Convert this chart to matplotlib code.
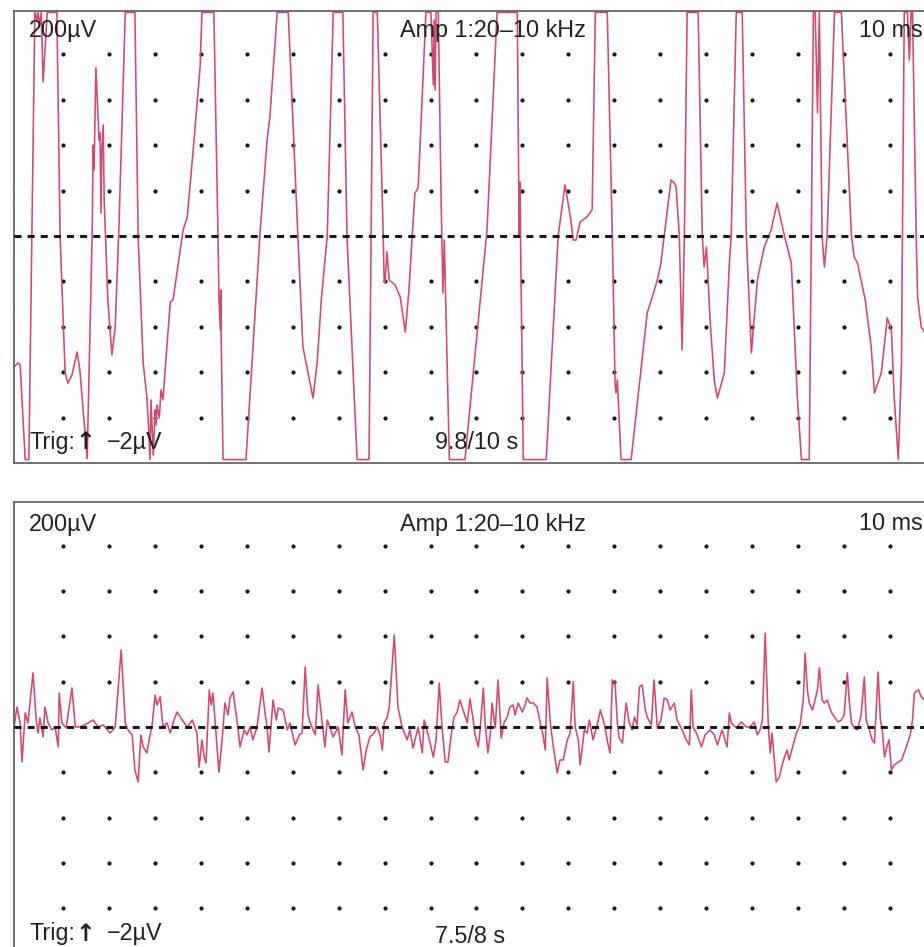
import matplotlib
matplotlib.use("Agg")
import matplotlib.pyplot as plt
import numpy as np

plt.rcParams['font.family'] = ['Liberation Sans', 'DejaVu Sans']

W, H = 924, 947

# Screen graticule: 10 ms and 200 uV per division
grid_t = np.arange(10, 200, 10)                 # ms
grid_uV = [-800, -600, -400, -200, 200, 400, 600, 800]

gain_label = "200\u00b5V"
filter_label = "Amp 1:20\u201310 kHz"
sweep_label = "10 ms"
trig_label = "Trig:"
trig_arrow = "\u2191"
level_label = "\u22122\u00b5V"
top_time_label = "9.8/10 s"
bot_time_label = "7.5/8 s"

# Upper trace (ms, uV), amplifier saturates at about +/-985 uV
top_t = [-0.7, 0.1, 0.6, 1.7, 2.5, 3.8, 4.3, 4.5, 4.9, 5.2,
         5.6, 6.5, 8.6, 9.3, 10.4, 11.0, 11.9, 13.0, 13.6, 15.2,
         16.3, 16.5, 16.7, 17.1, 17.6, 17.8, 18.0, 18.2, 18.4, 18.7,
         18.9, 19.7, 20.6, 21.3, 22.1, 23.5, 25.6, 26.3, 27.4, 28.2,
         28.5, 28.9, 29.1, 29.6, 30.0, 30.2, 30.4, 30.9, 31.3, 31.7,
         33.3, 33.9, 36.1, 37.0, 38.3, 39.8, 40.2, 42.8, 43.7, 43.9,
         44.2, 44.3, 44.4, 44.8, 49.8, 52.9, 54.4, 55.0, 56.6, 59.0,
         61.1, 62.2, 64.4, 65.3, 66.2, 67.5, 68.8, 70.9, 71.8, 74.0,
         76.6, 77.5, 78.4, 79.7, 79.9, 80.1, 80.5, 81.0, 82.3, 83.4,
         84.5, 85.3, 86.0, 86.6, 87.3, 89.0, 90.1, 90.6, 90.8, 91.0,
         91.2, 91.7, 92.3, 92.7, 93.0, 94.1, 97.5, 102.3, 104.5, 108.9,
         109.3, 109.5, 109.6, 110.2, 115.2, 117.8, 119.3, 120.4, 121.1, 121.7,
         122.6, 124.1, 125.2, 125.9, 128.5, 129.6, 130.2, 130.4, 130.7, 131.5,
         133.7, 137.2, 138.1, 139.4, 140.2, 140.9, 142.4, 143.1, 143.5, 144.2,
         144.8, 145.3, 145.9, 148.3, 149.2, 149.6, 150.1, 150.9, 151.8, 152.5,
         154.0, 155.1, 155.5, 156.6, 157.9, 158.8, 159.9, 161.2, 162.7, 164.2,
         165.5, 167.1, 168.6, 169.9, 170.8, 172.5, 173.4, 173.8, 174.3, 174.7,
         175.3, 175.8, 176.2, 176.4, 178.0, 179.5, 181.7, 182.3, 183.0, 184.7,
         186.0, 186.7, 188.2, 189.5, 190.4, 191.0, 191.9, 192.6, 192.8, 193.2,
         193.9, 194.3, 194.7, 195.0, 195.8, 196.1, 196.5, 196.9, 198.0]
top_uV = [-577, -559, -568, -985, -985, 985, 951, 985, 929, 985,
          678, 985, 985, 0, -603, -648, -612, -511, -590, -980,
          26, 401, 291, 740, 511, 423, 454, 101, 379, 489,
          159, -282, -524, -401, 26, 985, 985, 0, -559, -709,
          -811, -985, -722, -965, -766, -833, -744, -802, -678, -722,
          -291, -282, 26, 84, 379, 744, 985, 985, 0, -269,
          -414, -238, -458, -985, -985, 26, 423, 524, 985, 985,
          0, -489, -714, -559, -282, 0, 985, 985, 0, -985,
          -985, 985, 985, 0, -203, -207, -70, -194, -216, -269,
          -423, -238, 0, 189, 211, 985, 985, 665, 951, 643,
          985, 985, 159, -251, -18, -985, -985, 26, 985, 985,
          0, 238, 0, -985, -985, 0, 225, 93, -18, -18,
          62, 84, 115, 985, 985, 0, -648, -692, -634, -985,
          -985, -339, -282, -194, -119, 0, 247, 233, 216, 0,
          -502, 0, 985, 985, 0, -137, -48, -370, -634, -714,
          -603, -119, 0, 985, 985, 0, -515, -194, -48, 26,
          145, 0, -119, -709, -985, -985, 985, 985, 542, 985,
          0, -137, -48, 0, 985, 985, 0, -93, -119, -282,
          -489, -692, -603, -361, -414, -709, -985, -559, 0, 985,
          985, 775, 985, 985, 0, -269, -335, -401, -436]

# Lower trace (ms, uV)
bot_t = [-0.7, -0.5, -0.1, 0.6, 1.0, 1.7, 2.3, 3.4, 4.1, 4.5,
         4.9, 5.6, 6.0, 6.7, 7.5, 8.2, 8.9, 9.1, 9.7, 10.6,
         11.9, 12.6, 13.6, 15.0, 16.5, 17.6, 18.7, 20.2, 21.3, 22.6,
         23.5, 24.1, 25.0, 25.6, 26.3, 26.9, 27.4, 28.2, 28.9, 29.3,
         30.0, 30.4, 31.1, 31.7, 32.6, 33.3, 34.1, 34.8, 35.9, 37.0,
         38.1, 39.1, 39.6, 40.2, 40.7, 41.1, 41.8, 42.2, 42.6, 43.1,
         43.9, 44.6, 45.2, 45.9, 46.3, 47.0, 47.9, 48.5, 49.4, 50.0,
         50.7, 51.3, 52.2, 53.3, 54.0, 54.4, 54.8, 55.7, 56.4, 56.8,
         57.9, 58.8, 59.4, 60.5, 61.4, 62.0, 62.7, 63.3, 63.8, 64.9,
         65.5, 66.4, 67.0, 67.5, 68.8, 69.9, 70.7, 71.4, 72.0, 72.9,
         73.6, 74.4, 75.3, 76.0, 76.8, 77.7, 78.4, 79.0, 79.5, 79.9,
         80.5, 81.0, 82.1, 82.9, 83.8, 84.9, 85.5, 86.2, 86.9, 87.3,
         88.2, 88.6, 89.5, 90.6, 91.2, 91.9, 92.5, 93.2, 93.8, 94.5,
         95.1, 95.8, 96.4, 97.1, 98.0, 98.6, 99.3, 99.7, 100.4, 100.8,
         101.5, 101.9, 102.5, 103.0, 103.4, 104.1, 104.7, 105.4, 106.0, 106.7,
         107.3, 108.0, 108.4, 109.1, 110.0, 110.6, 111.0, 111.7, 112.4, 113.2,
         113.9, 114.5, 115.0, 115.4, 116.1, 116.7, 117.6, 118.2, 118.9, 119.8,
         120.4, 121.1, 121.5, 122.2, 122.6, 123.5, 124.1, 124.6, 125.4, 126.3,
         127.0, 127.8, 128.7, 129.1, 129.6, 130.2, 130.7, 131.1, 131.8, 132.6,
         133.3, 133.9, 134.4, 135.0, 135.5, 136.1, 136.8, 137.2, 138.1, 138.7,
         139.4, 140.2, 140.9, 141.6, 142.2, 143.1, 143.7, 144.8, 145.7, 146.4,
         146.8, 147.2, 148.1, 149.0, 149.8, 150.9, 151.8, 152.5, 153.5, 154.6,
         155.1, 155.5, 156.6, 157.7, 158.8, 159.6, 160.5, 161.2, 161.8, 162.3,
         162.9, 163.6, 164.0, 164.4, 164.9, 165.3, 166.0, 166.6, 167.1, 167.7,
         168.1, 169.0, 169.7, 170.5, 171.2, 171.6, 172.1, 172.5, 173.2, 173.6,
         174.3, 174.7, 175.3, 175.8, 176.4, 177.3, 178.0, 178.8, 179.5, 180.1,
         180.8, 181.2, 181.7, 182.3, 183.0, 183.8, 184.5, 184.9, 185.6, 186.2,
         186.7, 187.1, 187.5, 188.0, 188.4, 188.9, 189.5, 189.9, 190.4, 191.0,
         191.9, 192.6, 193.4, 193.9, 194.5, 195.0, 195.4, 196.3, 196.9, 197.6]
bot_uV = [0, 31, 88, 18, -155, 62, 18, 239, 31, -27,
          40, -44, 88, 18, -13, 0, -88, 150, 18, -4,
          172, 0, 0, 13, 31, 0, 9, -27, 0, 340,
          18, -13, -35, -190, -243, -35, -88, -115, -35, 0,
          141, 97, 133, 0, 18, -27, 31, 66, 31, 0,
          31, -27, -177, -57, -133, -159, 164, 97, 150, 18,
          -199, -57, 106, 53, 128, 155, 18, -88, -13, -35,
          0, -57, 0, 172, 53, 0, -111, 119, 31, 84,
          75, -13, 18, -80, -35, -27, 265, 53, 18, -35,
          186, 18, -88, 31, -44, 0, -124, 164, 18, 66,
          0, -35, -190, -102, -44, -27, 0, -35, -102, 18,
          40, 84, 407, 88, 0, -57, -13, -93, -35, 0,
          -115, 31, -35, -133, -57, 194, 0, -155, -155, -35,
          44, 66, 119, 75, 18, 124, 31, -35, -88, -13,
          172, 18, -115, -35, 106, -4, 208, -49, 18, 44,
          88, 97, 53, 106, 66, 97, 128, 106, 106, 88,
          18, -35, -102, 217, 18, -80, -203, -146, -146, -57,
          -27, 199, 0, -57, -168, -13, -27, 31, -57, 9,
          75, 18, -80, -115, 208, 194, 18, -49, -71, 106,
          18, -13, 44, 9, 177, 186, 75, 44, 9, 208,
          -4, 31, 128, 119, 75, 106, 31, -13, -57, -80,
          164, 0, -35, -88, -35, -13, -35, -80, -13, -88,
          62, 18, -4, 22, 0, 0, 22, -35, -13, 31,
          415, 0, -115, -27, -146, -243, -221, -168, -133, -102,
          -146, -80, -27, 9, 119, 327, 164, 106, 75, 106,
          164, 261, 119, 106, 119, 66, 44, 22, 31, 53,
          239, 119, 18, -4, -13, 53, 221, 31, -13, -57,
          -71, 75, 243, 31, -13, -133, -80, -57, -190, -168,
          -155, -146, -102, -71, -35, 31, 150, 164, 133, 119]

assert len(top_t) == len(top_uV)
assert len(bot_t) == len(bot_uV)

trace_color = "#d4476f"
ink = "#111111"
frame = "#5a5a5a"
fs = 16.8

fig = plt.figure(figsize=(W / 100, H / 100), dpi=100)
fig.patch.set_facecolor("white")


def px_rect(x0, y0, x1, y1):
    return [x0 / W, 1 - y1 / H, (x1 - x0) / W, (y1 - y0) / H]


def panel(rect, ylim, t, v, spines):
    ax = fig.add_axes(rect)
    ax.set_xlim(-0.74, 197.5)
    ax.set_ylim(*ylim)
    gx, gy = np.meshgrid(grid_t, grid_uV)
    ax.plot(gx.ravel(), gy.ravel(), ls="none", marker="o", ms=3.0,
            mfc=ink, mec=ink, mew=0, zorder=1)
    ax.plot(t, v, color=trace_color, lw=1.15, zorder=2,
            solid_joinstyle="round")
    ax.axhline(0, color=ink, lw=2.1, dashes=(2.4, 2.1), zorder=3)
    ax.set_xticks([])
    ax.set_yticks([])
    for name, sp in ax.spines.items():
        sp.set_visible(name in spines)
        sp.set_color(frame)
        sp.set_linewidth(1.2)
    return ax


panel(px_rect(14, 11, 924, 463), (-1000, 991), top_t, top_uV,
      ("left", "top", "bottom"))
panel(px_rect(14, 502, 924, 947), (-972, 994), bot_t, bot_uV,
      ("left", "top"))


def label(x, y, s, **kw):
    kw.setdefault("fontsize", fs)
    fig.text(x / W, 1 - y / H, s, color="#222222",
             va="baseline", ha="left", **kw)


for base, low, tlabel, tbase in ((37, 448.5, top_time_label, 449),
                                 (530.5, 940, bot_time_label, 942.5)):
    label(29, base, gain_label)
    label(400, base, filter_label)
    label(859, base, sweep_label)
    label(29.5, low, trig_label)
    label(75.5, low + 0.5, trig_arrow, fontweight="bold",
          family=["DejaVu Sans"], fontsize=17.0)
    label(107, low, level_label)
    label(435, tbase, tlabel)

fig.savefig("out.png", dpi=100, facecolor="white")
